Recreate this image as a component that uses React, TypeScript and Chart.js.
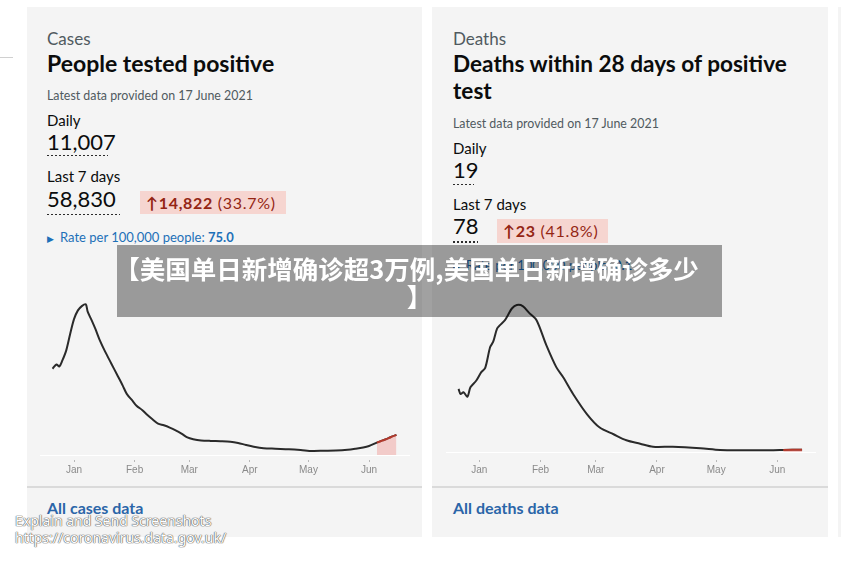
import React, { useEffect, useRef } from "react";
import { Chart, registerables } from "chart.js";

Chart.register(...registerables);

// ---- axis ticks (days since 1 Jan 2021) ----
const monthTickDays = [0, 31, 59, 90, 120, 151];
const monthLabels = ["Jan", "Feb", "Mar", "Apr", "May", "Jun"];

// ---- Cases: 7-day average of people tested positive ----
const casesDays = [-11, -9, -7.5, -6, -4, -2, 0, 2, 4, 6, 7, 9, 11, 13, 16, 19, 22, 25, 27, 30, 32, 35, 37, 40, 43, 46, 49, 52, 55, 58, 61, 65, 70, 75, 80, 84, 88, 92, 97, 103, 110, 116, 122, 128, 134, 140, 144, 148, 151, 155, 158, 161, 163, 165];
const casesValues = [34300, 36000, 35200, 37500, 41500, 48000, 54000, 57500, 59200, 59900, 57000, 53600, 50000, 46000, 41000, 36500, 32000, 27500, 24300, 21500, 19600, 17800, 16300, 14300, 12500, 11800, 10900, 9800, 8500, 7000, 6300, 5800, 5600, 5500, 5300, 4800, 4000, 3300, 2700, 2500, 2300, 2000, 1600, 1700, 1800, 2100, 2500, 3000, 3600, 4900, 5800, 6700, 7400, 8000];
const casesRecentFrom = 155;

// ---- Deaths within 28 days of positive test: 7-day average ----
const deathsDays = [-10.5, -9.5, -8, -6, -4.5, -1.5, 1, 3, 5.5, 7, 9, 10.5, 13, 14.5, 16.5, 19, 22, 25.5, 29, 34, 39, 42.5, 47.5, 54.5, 61, 68, 74.5, 81.5, 88, 98, 112, 122, 135, 149, 154, 163.5];
const deathsValues = [537, 494, 508, 471, 550, 608, 679, 716, 893, 936, 1050, 1079, 1121, 1164, 1221, 1250, 1241, 1179, 1121, 907, 722, 636, 494, 323, 208, 151, 100, 71, 45, 45, 32, 17, 15, 15, 17, 20];
const deathsRecentFrom = 154;

type ChartSpec = {
  days: number[];
  values: number[];
  recentFrom: number;
  xMin: number;
  xMax: number;
  yMax: number;
  tickLength: number;
};

function MiniChart({ spec, style }: { spec: ChartSpec; style: React.CSSProperties }) {
  const ref = useRef<HTMLCanvasElement | null>(null);
  useEffect(() => {
    if (!ref.current) return;
    const pts = spec.days.map((d, i) => ({ x: d, y: spec.values[i] }));
    const recent = pts.filter((p) => p.x >= spec.recentFrom);
    const chart = new Chart(ref.current, {
      type: "line",
      data: {
        datasets: [
          {
            data: recent,
            borderColor: "#b3392c",
            borderWidth: 2,
            backgroundColor: "rgba(240,170,165,0.55)",
            fill: "origin",
            pointRadius: 0,
            tension: 0.3,
          },
          {
            data: pts,
            borderColor: "#2a2a2a",
            borderWidth: 2,
            fill: false,
            pointRadius: 0,
            tension: 0.3,
          },
        ],
      },
      options: {
        animation: false,
        responsive: false,
        maintainAspectRatio: false,
        layout: { padding: 0 },
        plugins: { legend: { display: false }, tooltip: { enabled: false } },
        scales: {
          x: {
            type: "linear",
            min: spec.xMin,
            max: spec.xMax,
            afterBuildTicks: (s: any) => {
              s.ticks = monthTickDays.map((v) => ({ value: v }));
            },
            ticks: {
              autoSkip: false,
              maxRotation: 0,
              padding: 2,
              color: "#8a8a8a",
              font: { family: "Liberation Sans", size: 10 },
              callback: (v: any) => {
                const i = monthTickDays.indexOf(Number(v));
                return i >= 0 ? monthLabels[i] : "";
              },
            },
            grid: {
              drawOnChartArea: false,
              drawTicks: true,
              tickLength: spec.tickLength,
              tickColor: "#b8b8b8",
              tickBorderDash: [0, spec.tickLength - 3, 3, 60],
            } as any,
            border: { display: true, color: "#ffffff", width: 1 },
          },
          y: { display: false, min: 0, max: spec.yMax },
        },
      },
    });
    return () => chart.destroy();
  }, []);
  const w = Number(style.width);
  const h = Number(style.height);
  return <canvas ref={ref} width={w} height={h} style={{ position: "absolute", ...style }} />;
}

const FONT = "Lato, 'Noto Sans', sans-serif";

function T({ x, base, size, children, color = "#0b0c0c", weight = 400, extra = {} }: any) {
  return (
    <div
      style={{
        position: "absolute",
        left: x,
        top: base - size * 0.89,
        fontSize: size,
        lineHeight: size + "px",
        fontFamily: FONT,
        color,
        fontWeight: weight,
        whiteSpace: "nowrap",
        ...extra,
      }}
    >
      {children}
    </div>
  );
}

function Dots({ x, y, w }: { x: number; y: number; w: number }) {
  return (
    <div
      style={{
        position: "absolute",
        left: x,
        top: y,
        width: w,
        height: 1.5,
        backgroundImage: "repeating-linear-gradient(to right, #2b2b2b 0 2px, transparent 2px 4px)",
      }}
    />
  );
}

function Badge({ x, y, w, h, strong, rest }: any) {
  return (
    <div
      style={{
        position: "absolute",
        left: x,
        top: y,
        width: w,
        height: h,
        background: "#f6d5d0",
        fontFamily: FONT,
        fontSize: 16,
        lineHeight: h + "px",
        color: "#942514",
        paddingLeft: 6,
        boxSizing: "border-box",
        letterSpacing: 0.7,
        whiteSpace: "nowrap",
      }}
    >
      <b>{strong}</b>
      <span> {rest}</span>
    </div>
  );
}

export default function App() {
  const casesSpec: ChartSpec = {
    days: casesDays,
    values: casesValues,
    recentFrom: casesRecentFrom,
    xMin: (40 - 74) / 1.954,
    xMax: (40 - 74) / 1.954 + 370 / 1.954,
    yMax: (454 - 290) * 400,
    tickLength: 7,
  };
  const deathsSpec: ChartSpec = {
    days: deathsDays,
    values: deathsValues,
    recentFrom: deathsRecentFrom,
    xMin: (446 - 479.3) / 1.974,
    xMax: (446 - 479.3) / 1.974 + 370 / 1.974,
    yMax: (451 - 290) * 8.56,
    tickLength: 10,
  };

  return (
    <div style={{ position: "absolute", left: 0, top: 0, width: 841, height: 562, background: "#ffffff", overflow: "hidden" }}>
      {/* small stray line at left */}
      <div style={{ position: "absolute", left: 0, top: 57, width: 13, height: 1, background: "#d0d0d0" }} />
      {/* cards */}
      <div style={{ position: "absolute", left: 27, top: 7, width: 395, height: 530, background: "#f4f4f4" }} />
      <div style={{ position: "absolute", left: 432, top: 7, width: 396, height: 530, background: "#f4f4f4" }} />
      <div style={{ position: "absolute", left: 838, top: 7, width: 10, height: 530, background: "#f4f4f4" }} />
      <div style={{ position: "absolute", left: 27, top: 486, width: 395, height: 2, background: "#dadada" }} />
      <div style={{ position: "absolute", left: 432, top: 486, width: 396, height: 2, background: "#dadada" }} />

      {/* left card text */}
      <T x={47} base={45} size={17} color="#505a5f">Cases</T>
      <T x={47} base={72.7} size={23} weight={700}>People tested positive</T>
      <T x={47} base={101} size={12.4} color="#505a5f">Latest data provided on 17 June 2021</T>
      <T x={47} base={126} size={15}>Daily</T>
      <T x={47} base={150.7} size={22}>11,007</T>
      <Dots x={47} y={154.5} w={61} />
      <T x={47} base={182.5} size={15}>Last 7 days</T>
      <T x={47} base={207.3} size={22}>58,830</T>
      <Dots x={47} y={213.5} w={73} />
      <Badge x={140} y={191} w={146} h={23} strong="↑14,822" rest="(33.7%)" />
      <T x={47} base={242.5} size={13} color="#1d70b8">
        <span style={{ fontSize: 9 }}>▶</span>
        <span style={{ marginLeft: 6 }}>Rate per 100,000 people: </span>
        <b>75.0</b>
      </T>
      <T x={47} base={514} size={16} weight={700} color="#2a65a8">All cases data</T>

      {/* right card text */}
      <T x={453} base={45} size={17} color="#505a5f">Deaths</T>
      <T x={453} base={72.7} size={22.6} weight={700}>Deaths within 28 days of positive</T>
      <T x={453} base={100} size={22.6} weight={700}>test</T>
      <T x={453} base={129.3} size={12.4} color="#505a5f">Latest data provided on 17 June 2021</T>
      <T x={453} base={154} size={15}>Daily</T>
      <T x={453} base={179} size={22}>19</T>
      <Dots x={453} y={183.5} w={21} />
      <T x={453} base={210.7} size={15}>Last 7 days</T>
      <T x={453} base={235} size={22}>78</T>
      <Dots x={453} y={241} w={25} />
      <Badge x={497} y={218.5} w={111} h={24} strong="↑23" rest="(41.8%)" />
      <T x={453} base={271} size={13} color="#1d70b8">
        <span style={{ fontSize: 9 }}>▶</span>
        <span style={{ marginLeft: 6 }}>Rate per 100,000 people: </span>
        <b>0.1</b>
      </T>
      <T x={453} base={514} size={16} weight={700} color="#2a65a8">All deaths data</T>

      {/* charts */}
      <MiniChart spec={casesSpec} style={{ left: 40, top: 290, width: 370, height: 188 }} />
      <MiniChart spec={deathsSpec} style={{ left: 446, top: 290, width: 370, height: 188 }} />

      {/* overlay banner */}
      <div
        style={{
          position: "absolute",
          left: 117,
          top: 245,
          width: 605,
          height: 72,
          background: "rgba(0,0,0,0.37)",
          color: "#ffffff",
          fontFamily: "'Noto Sans CJK SC', sans-serif",
          fontWeight: 700,
          fontSize: 25.5,
          lineHeight: "28px",
          textAlign: "center",
          paddingTop: 9,
          boxSizing: "border-box",
          zIndex: 5,
          whiteSpace: "nowrap",
        }}
      >
        <span style={{ position: "relative", left: -13 }}>【美国单日新增确诊超3万例,美国单日新增确诊多少</span>
        <br />】
      </div>

      {/* watermark */}
      {[
        { t: "Explain and Send Screenshots", b: 527 },
        { t: "https://coronavirus.data.gov.uk/", b: 544 },
      ].map((w) => (
        <div
          key={w.t}
          style={{
            position: "absolute",
            left: 15,
            top: w.b - 14,
            fontFamily: "'Noto Sans', sans-serif",
            fontSize: 14,
            lineHeight: "16px",
            color: "#ffffff",
            whiteSpace: "nowrap",
            textShadow: "0 0 1px #555, 0 0 1px #555, 0 0 1px #777",
            zIndex: 6,
          }}
        >
          {w.t}
        </div>
      ))}
    </div>
  );
}
